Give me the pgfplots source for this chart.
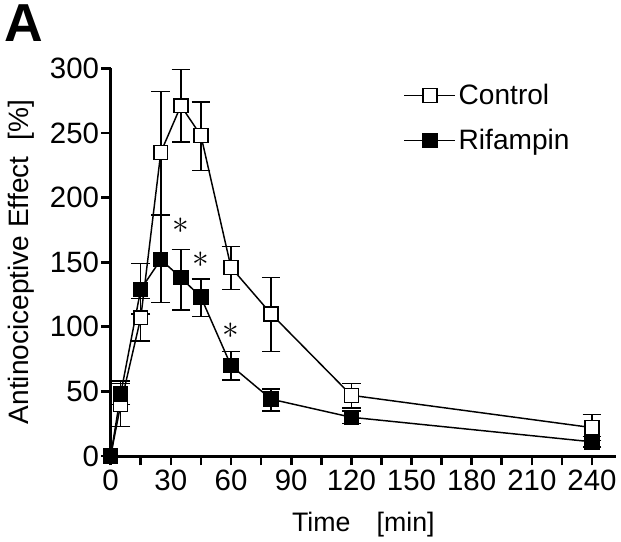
\documentclass[border=0pt]{standalone}
\usepackage{pgfplots}
\pgfplotsset{compat=1.18}
\usepackage{fontspec}
\setmainfont{Liberation Sans}

% time [min], mean, +err, -err
\pgfplotstableread{
t   y    ep   em
0   0    0    0
5   40   16   17
15  107  15  18
25  235  47   48
35  271  28   28
45  248  26   27
60  146  16   17
80  110  28   29
120 47   9    10
240 22   10   10
}\control
\pgfplotstableread{
t   y    ep   em
0   0    0    0
5   48   10   8
15  129  20   19
25  152  34   33
35  138  22   25
45  123  14   15
60  70   11   11
80  44   8    9
120 30   5    5
240 11   4    4
}\rifampin

\begin{document}
\begin{tikzpicture}
\begin{axis}[
  scale only axis, width=378pt, height=290pt,
  clip=false,
  xmin=0, xmax=252, ymin=0, ymax=300,
  axis x line=bottom, axis y line=left,
  axis line style={line width=2.2pt,-},
  xtick={0,30,...,240}, minor xtick={15,45,...,225},
  ytick={0,50,...,300},
  tick align=outside,
  major tick length=7pt, minor tick length=7pt,
  every tick/.style={line width=2pt,black},
  tick label style={font=\fontsize{22}{26}\selectfont},
  yticklabel style={inner sep=1.5pt},
  /pgf/number format/assume math mode=true,
  xlabel={Time\hspace{14pt} [min]},
  xlabel style={font=\fontsize{20}{24}\selectfont, at={(rel axis cs:0.5,0)}, anchor=center, yshift=-51pt},
  ylabel={Antinociceptive Effect\hspace{6pt} [\%]},
  ylabel style={font=\fontsize{21}{25}\selectfont, at={(rel axis cs:0,0.5)}, anchor=center, yshift=67pt},
  legend style={at={(axis cs:146,290)}, anchor=north west, draw=none, fill=none,
    font=\fontsize{21}{25}\selectfont, row sep=13pt, inner sep=0pt},
  legend cell align=left,
  legend image code/.code={
    \draw[mark repeat=2, mark phase=2, #1] plot coordinates {(0pt,0pt) (19pt,0pt) (38pt,0pt)};},
]
\addplot[black, line width=1.1pt, mark=square*, mark size=5.2pt,
  mark options={fill=white, line width=1.1pt},
  error bars/.cd, y dir=both, y explicit,
  error bar style={line width=1.1pt, black},
  error mark options={line width=1.1pt, mark size=7pt, rotate=90}]
  table[x=t, y=y, y error plus=ep, y error minus=em]{\control};
\addlegendentry{Control}
\addplot[black, line width=1.1pt, mark=square*, mark size=5.2pt,
  mark options={fill=black, line width=1.1pt},
  error bars/.cd, y dir=both, y explicit,
  error bar style={line width=1.1pt, black},
  error mark options={line width=1.1pt, mark size=7pt, rotate=90}]
  table[x=t, y=y, y error plus=ep, y error minus=em]{\rifampin};
\addlegendentry{Rifampin}
\addplot[draw=none, mark=none, forget plot,
  nodes near coords={\fontsize{38}{38}\selectfont$\ast$},
  nodes near coords align={center}]
  coordinates {(35,178) (45,152) (60,97)};
\node[font=\fontsize{40}{40}\selectfont\bfseries, anchor=center]
  at ([xshift=-65pt, yshift=34pt]rel axis cs:0,1) {A};
\end{axis}
\end{tikzpicture}
\end{document}
